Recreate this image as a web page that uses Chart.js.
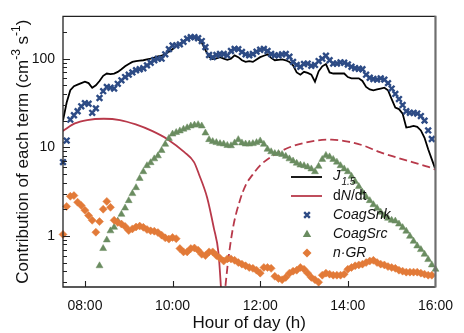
<!DOCTYPE html>
<html><head><meta charset="utf-8">
<script src="https://cdn.jsdelivr.net/npm/chart.js@4/dist/chart.umd.min.js"></script>
<style>html,body{margin:0;padding:0;background:#fff;}#wrap{width:464px;height:333px;position:relative;}</style>
</head><body><div id="wrap"><canvas id="c" width="464" height="333"></canvas></div>
<script>
// ---- data (5‑minute samples from 07:30 to 16:00) ----
const hourStart = 7.5;
const stepHours = 5 / 60;
const J15 = [20,32,44,49,51,53,55,53,47,50, 56,64,68,67,68,71,76,82,87,92,
  94,95,96,98,100,103,106,108,113,120, 128,140,147,158,168,172,170,165,152,125,
  105,99,101,104,100,97,100,109,104,96, 92,94,92,98,104,108,112,102,96,97,
  98,96,92,84,70,66,71,69,66,55, 72,82,87,70,68,68,68,68,62,60,
  60,60,56,48,45,44,45,46,47,44, 35,28,27,24,16.7,17,17.4,17,15.5,12.8,
  9.5,7.3,5.6];
const coagSnk = [6.8,11.9,20.5,23,25.5,29,31.5,31,24.5,27.5, 36,43,48,47,46,52,57,62,66,70,
  74,76,78,84,90,96,100,100,112,128, 141,141,145,155,168,175,175,170,158,135,
  110,104,110,113,113,109,122,129,128,119, 112,109,113,120,126,129,122,113,109,109,
  112,113,105,92,85,81,87,88,83,85, 94,100,108,96,88,88,91,90,86,81,
  78,77,76,66,61,59,58,60,58,53, 46,40,35,30,25.5,24.5,24.5,24,22.5,20,
  15.5,12.4,null];
const coagSrc = [null,null,null,null,null,null,null,null,null,null,
  0.46,0.72,0.9,1.14,1.25,1.47,1.75,2.06,2.5,3.0, 3.5,4.45,5.3,6.2,6.7,7.4,8.0,9.2,10.8,12.6,
  14.1,14.7,15.3,16.0,16.6,17.4,17.8,18.0,17.4,14.5, 12.2,11.6,11.3,11.0,10.9,10.5,10.4,11.2,12.2,11.2,
  10.9,10.9,11.0,11.3,11.8,10.8,9.5,8.9,8.5,8.5, 8.3,7.9,7.4,7.0,6.6,6.3,6.2,6.0,5.7,5.3,
  6.1,7.3,8.1,7.8,7.3,6.8,6.2,5.7,5.3,4.7, 4.1,3.6,3.1,2.75,2.5,2.25,2.05,1.85,1.7,1.58,
  1.5,1.47,1.36,1.24,1.13,0.99,0.87,0.77,0.70,0.62, 0.54,0.47,0.42];
const nGR = [1.04,2.15,2.8,2.85,2.4,2.2,1.95,1.7,1.5,1.1, 1.45,2.0,2.45,2.1,1.5,1.42,1.36,1.28,1.15,1.2,
  1.26,1.29,1.25,1.18,1.14,1.13,1.09,1.02,0.95,0.92, 0.96,0.93,0.72,0.66,0.66,0.72,0.73,0.69,0.62,0.6,
  0.66,0.66,0.6,0.56,0.52,0.55,0.55,0.53,0.5,0.48, 0.46,0.44,0.43,0.41,0.38,0.44,0.44,0.43,0.35,0.33,
  0.32,0.34,0.38,0.4,0.41,0.44,0.42,0.38,0.34,0.32, 0.3,0.36,0.38,0.37,0.36,0.36,0.36,0.37,0.42,0.44,
  0.46,0.47,0.48,0.5,0.52,0.53,0.5,0.48,0.47,0.45, 0.44,0.43,0.41,0.4,0.39,0.39,0.39,0.39,0.38,0.37,
  0.36,0.36,null];
// dN/dt: positive branch (solid) and negative branch shown as |dN/dt| (dashed)
const dndtPosHours = [7.5,7.77,8.05,8.43,8.8,9.16,9.53,9.9,10.27,10.49,10.6,10.79,10.94,11.05,11.12];
const dndtPos      = [15.3,18.6,20.3,21,20.3,18.1,15.3,12.2,8.8,6.8,5.0,2.7,1.24,0.63,0.2];
const dndtNegHours = [11.18,11.27,11.38,11.53,11.67,11.82,12.0,12.3,12.67,13.04,13.41,13.63,14.0,14.37,14.73,15.1,15.47,15.84,16.0];
const dndtNeg      = [0.2,0.53,1.24,2.45,3.75,4.85,6.25,8.1,10,11.3,12.1,12.2,11.6,10.4,8.8,7.7,6.8,6.0,5.6];
const xTicks = [8,10,12,14,16];
const yMajor = [1,10,100];
const yMinor = [0.3,0.4,0.5,0.6,0.7,0.8,0.9,2,3,4,5,6,7,8,9,20,30,40,50,60,70,80,90,200];
const yMin = 0.265, yMax = 300;

const FONT = '"Liberation Sans", Arial, Helvetica, sans-serif';
const C_BLACK = '#000000', C_RED = '#b8394a', C_BLUE = '#2d4b85', C_GREEN = '#6a8c60', C_ORANGE = '#e27a38';

const hours = J15.map((_, i) => hourStart + i * stepHours);
const pts = arr => arr.map((v, i) => ({x: hours[i], y: v}));
const pairs = (xs, ys) => xs.map((x, i) => ({x, y: ys[i]}));
const fmtHour = v => String(Math.floor(v)).padStart(2, '0') + ':00';

const decor = {
  id: 'decor',
  afterDraw(chart) {
    const {ctx, chartArea: a, scales: {x, y}} = chart;
    ctx.save();
    // frame
    ctx.lineCap = 'butt';
    ctx.strokeStyle = '#222'; ctx.lineWidth = 1.3;
    ctx.beginPath();
    ctx.moveTo(a.right, a.top); ctx.lineTo(a.left, a.top); ctx.lineTo(a.left, a.bottom); ctx.lineTo(a.right, a.bottom);
    ctx.stroke();
    ctx.strokeStyle = '#6e6e6e'; ctx.lineWidth = 2.2;
    ctx.beginPath(); ctx.moveTo(a.right, a.top - 0.6); ctx.lineTo(a.right, a.bottom + 0.6); ctx.stroke();
    // inward ticks
    ctx.strokeStyle = '#222'; ctx.lineWidth = 1.1;
    ctx.beginPath();
    yMajor.forEach(v => { const p = Math.round(y.getPixelForValue(v)) + 0.5; ctx.moveTo(a.left, p); ctx.lineTo(a.left + 7, p); });
    yMinor.forEach(v => { const p = Math.round(y.getPixelForValue(v)) + 0.5; ctx.moveTo(a.left, p); ctx.lineTo(a.left + 4, p); });
    xTicks.forEach(v => { const p = Math.round(x.getPixelForValue(v)) + 0.5; if (p < a.right - 2) { ctx.moveTo(p, a.bottom); ctx.lineTo(p, a.bottom - 6); } });
    ctx.stroke();

    // legend
    ctx.textBaseline = 'middle'; ctx.textAlign = 'left';
    ctx.fillStyle = '#111';
    const lx0 = 291, lx1 = 322, mx = 307, tx = 333;
    const rows = [177, 196, 215, 234, 253];
    // J1.5
    ctx.strokeStyle = C_BLACK; ctx.lineWidth = 1.8;
    ctx.beginPath(); ctx.moveTo(lx0, rows[0]); ctx.lineTo(lx1, rows[0]); ctx.stroke();
    ctx.font = 'italic 15px ' + FONT; ctx.fillText('J', tx, rows[0] - 1);
    let w = ctx.measureText('J').width;
    ctx.font = 'italic 10px ' + FONT; ctx.fillText('1.5', tx + w + 1, rows[0] + 5);
    // dN/dt
    ctx.strokeStyle = C_RED; ctx.lineWidth = 1.8;
    ctx.beginPath(); ctx.moveTo(lx0, rows[1]); ctx.lineTo(lx1, rows[1]); ctx.stroke();
    let cx = tx;
    ctx.font = '14px ' + FONT; ctx.fillText('d', cx, rows[1]); cx += ctx.measureText('d').width;
    ctx.font = 'italic 14px ' + FONT; ctx.fillText('N', cx, rows[1]); cx += ctx.measureText('N').width;
    ctx.font = '14px ' + FONT; ctx.fillText('/dt', cx, rows[1]);
    // markers
    ctx.font = 'italic 14px ' + FONT;
    ctx.strokeStyle = C_BLUE; ctx.lineWidth = 2.4;
    ctx.beginPath(); const o = 4 * Math.SQRT1_2;
    ctx.moveTo(mx - o, rows[2] - o); ctx.lineTo(mx + o, rows[2] + o); ctx.moveTo(mx + o, rows[2] - o); ctx.lineTo(mx - o, rows[2] + o); ctx.stroke();
    ctx.fillStyle = '#111'; ctx.fillText('CoagSnk', tx, rows[2]);
    ctx.fillStyle = C_GREEN; ctx.beginPath();
    ctx.moveTo(mx, rows[3] - 4.2); ctx.lineTo(mx + 4.2, rows[3] + 3); ctx.lineTo(mx - 4.2, rows[3] + 3); ctx.closePath(); ctx.fill();
    ctx.fillStyle = '#111'; ctx.fillText('CoagSrc', tx, rows[3]);
    ctx.fillStyle = C_ORANGE; ctx.beginPath();
    ctx.moveTo(mx, rows[4] - 4.5); ctx.lineTo(mx + 4.5, rows[4]); ctx.lineTo(mx, rows[4] + 4.5); ctx.lineTo(mx - 4.5, rows[4]); ctx.closePath(); ctx.fill();
    ctx.fillStyle = '#111'; ctx.fillText('n\u00B7GR', tx, rows[4]);

    // x title
    ctx.font = '17px ' + FONT; ctx.textAlign = 'center'; ctx.textBaseline = 'middle';
    ctx.fillText('Hour of day (h)', (a.left + a.right) / 2, 323);
    // y title with superscripts
    const segs = [
      {t: 'Contribution of each term (cm', f: '17px ' + FONT, dy: 0},
      {t: '-3', f: '12px ' + FONT, dy: -6},
      {t: ' s', f: '17px ' + FONT, dy: 0},
      {t: '-1', f: '12px ' + FONT, dy: -6},
      {t: ')', f: '17px ' + FONT, dy: 0}
    ];
    let total = 0;
    segs.forEach(s => { ctx.font = s.f; s.w = ctx.measureText(s.t).width; total += s.w; });
    ctx.save();
    ctx.translate(23, (a.top + a.bottom) / 2);
    ctx.rotate(-Math.PI / 2);
    ctx.textAlign = 'left'; ctx.textBaseline = 'middle';
    let px = -total / 2;
    segs.forEach(s => { ctx.font = s.f; ctx.fillText(s.t, px, s.dy); px += s.w; });
    ctx.restore();
    ctx.restore();
  }
};

new Chart(document.getElementById('c'), {
  type: 'line',
  data: { datasets: [
    {label: 'J1.5', data: pts(J15), borderColor: C_BLACK, borderWidth: 1.8, pointRadius: 0, tension: 0, order: 6},
    {label: 'dN/dt', data: pairs(dndtPosHours, dndtPos), borderColor: C_RED, borderWidth: 1.8, pointRadius: 0, cubicInterpolationMode: 'monotone', order: 5},
    {label: '-dN/dt', data: pairs(dndtNegHours, dndtNeg), borderColor: C_RED, borderWidth: 1.8, borderDash: [8, 4], pointRadius: 0, cubicInterpolationMode: 'monotone', order: 4},
    {label: 'CoagSnk', data: pts(coagSnk), showLine: false, pointStyle: 'crossRot', pointRadius: 4, pointBorderWidth: 2.4, borderColor: C_BLUE, backgroundColor: C_BLUE, order: 3, clip: false},
    {label: 'CoagSrc', data: pts(coagSrc), showLine: false, pointStyle: 'triangle', pointRadius: 4, pointBorderWidth: 0.5, borderColor: C_GREEN, backgroundColor: C_GREEN, order: 2, clip: false},
    {label: 'n·GR', data: pts(nGR), showLine: false, pointStyle: 'rectRot', pointRadius: 4, pointBorderWidth: 0.5, borderColor: C_ORANGE, backgroundColor: C_ORANGE, order: 1, clip: false}
  ]},
  options: {
    responsive: false, animation: false, devicePixelRatio: 1,
    layout: {padding: {left: 0, right: 17, top: 12, bottom: 0}},
    plugins: {legend: {display: false}, tooltip: {enabled: false}},
    scales: {
      x: {
        type: 'linear', min: 7.5, max: 16,
        afterBuildTicks: s => { s.ticks = xTicks.map(v => ({value: v})); },
        afterFit: s => { s.height = 46; },
        ticks: {callback: v => fmtHour(v), font: {size: 14, family: FONT}, color: '#111', padding: 11, maxRotation: 0, autoSkip: false},
        grid: {display: false, drawTicks: false}, border: {display: false}
      },
      y: {
        type: 'logarithmic', min: yMin, max: yMax,
        afterBuildTicks: s => { s.ticks = yMajor.concat(yMinor).sort((a, b) => a - b).map(v => ({value: v})); },
        afterFit: s => { s.width = 63; },
        ticks: {callback: v => yMajor.includes(v) ? String(v) : '', font: {size: 14, family: FONT}, color: '#111', padding: 8, autoSkip: false},
        grid: {display: false, drawTicks: false}, border: {display: false}
      }
    }
  },
  plugins: [decor]
});
</script>
</body></html>
